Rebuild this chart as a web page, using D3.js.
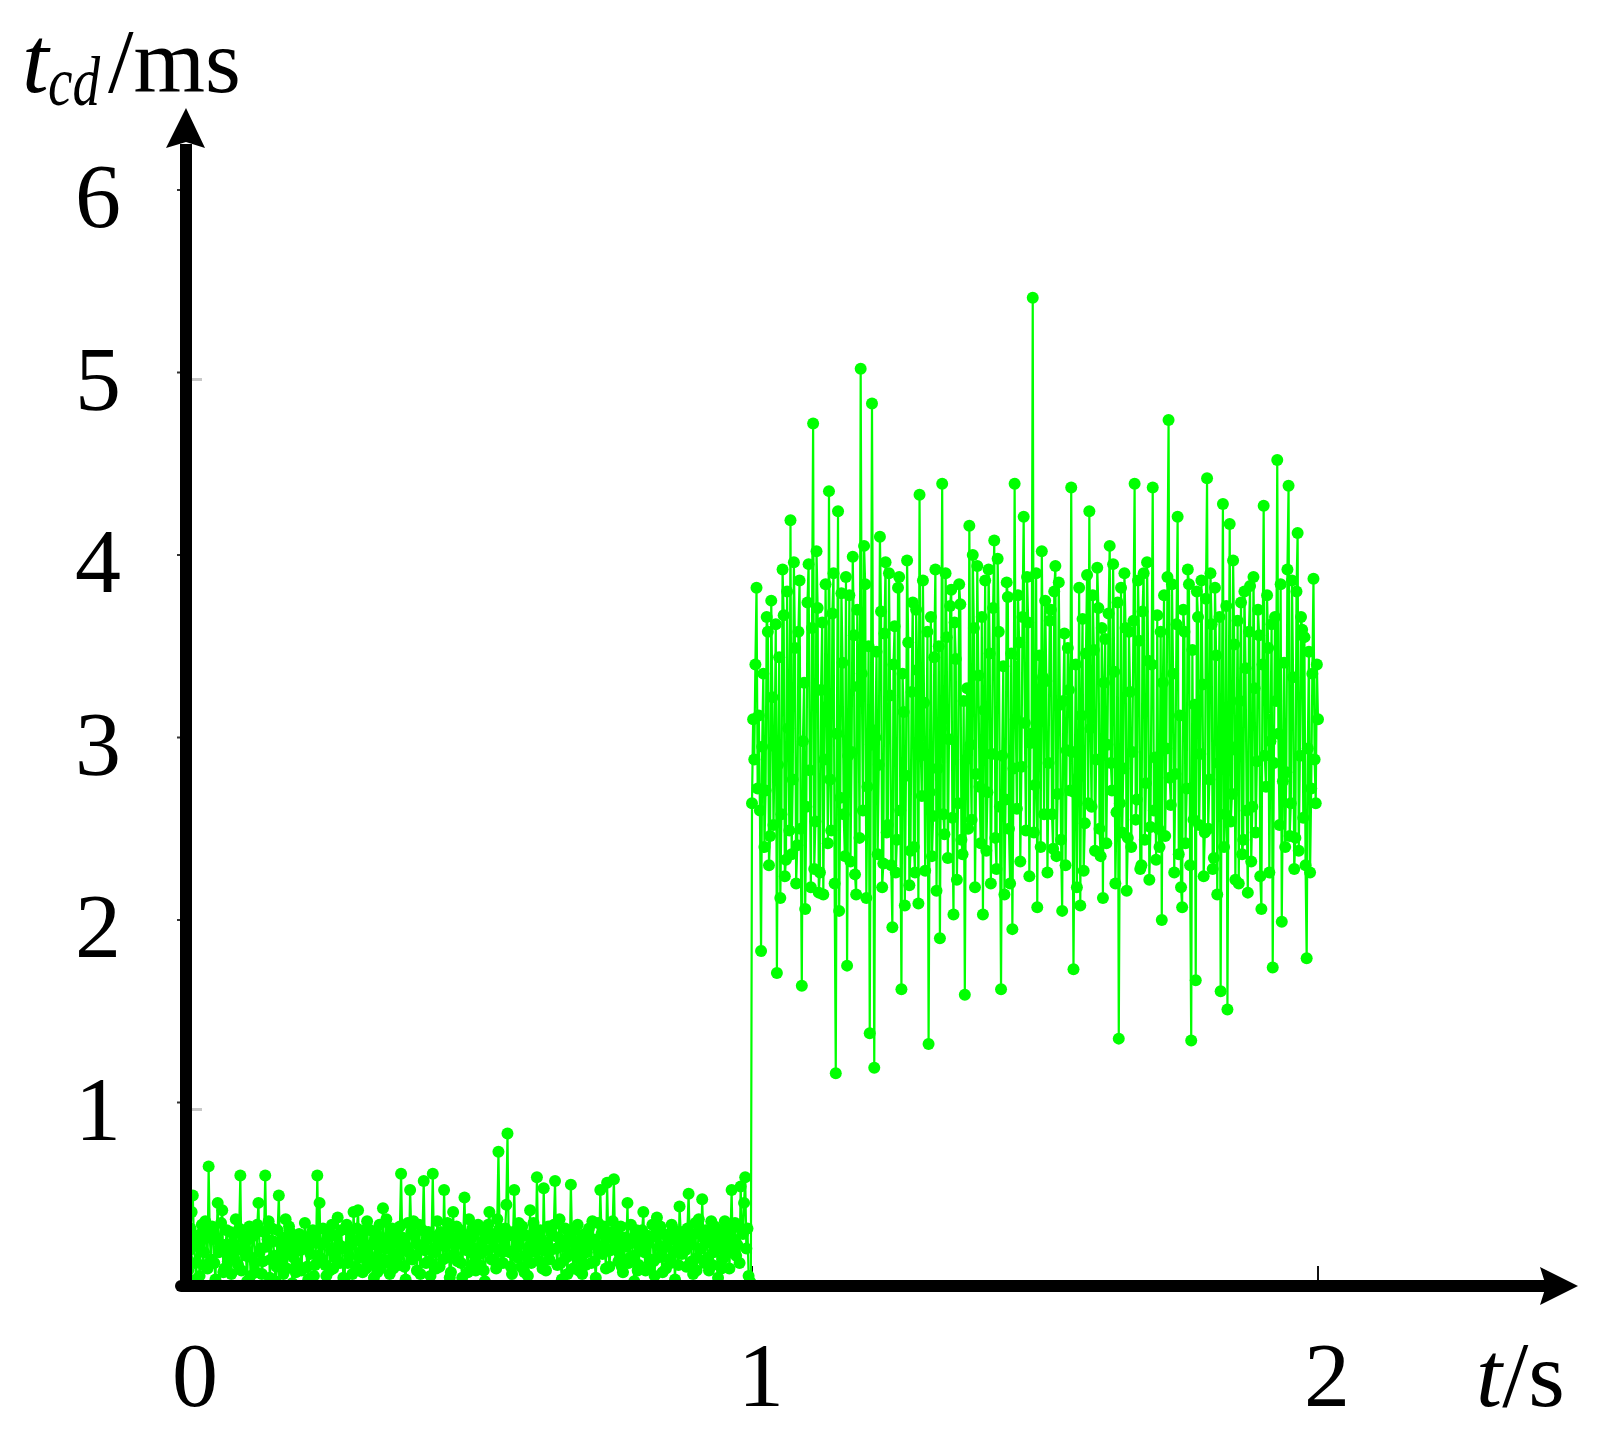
<!DOCTYPE html>
<html>
<head>
<meta charset="utf-8">
<script src="https://cdn.jsdelivr.net/npm/d3@7"></script>
<style>
  body { margin: 0; background: #fff; }
  text { font-family: "Liberation Serif", "Times New Roman", serif; fill: #000; }
</style>
</head>
<body>
<div id="chart"></div>
<script>
// t_cd samples, one every timeStep seconds
var timeStep = 0.002;

// 0 .. 0.998 s : before the fault
var lowValues = [
  0.22,0.15,0.08,0.19,0.31,0.40,0.49,0.24,0.12,0.03,0.27,0.21,0.05,0.28,0.33,0.11,0.18,0.35,0.26,0.09,
  0.65,0.26,0.14,0.32,0.29,0.12,0.03,0.25,0.45,0.18,0.21,0.34,0.41,0.07,0.09,0.22,0.30,0.13,0.17,0.29,
  0.06,0.23,0.28,0.14,0.36,0.20,0.11,0.31,0.60,0.08,0.19,0.27,0.24,0.16,0.02,0.25,0.32,0.05,0.15,0.30,
  0.27,0.12,0.07,0.33,0.45,0.18,0.20,0.06,0.13,0.29,0.60,0.21,0.25,0.35,0.04,0.14,0.31,0.24,0.16,0.02,
  0.10,0.30,0.49,0.17,0.22,0.13,0.06,0.26,0.36,0.09,0.18,0.32,0.29,0.20,0.01,0.15,0.24,0.07,0.12,0.27,
  0.28,0.19,0.08,0.24,0.20,0.34,0.26,0.10,0.03,0.22,0.17,0.28,0.30,0.05,0.11,0.23,0.60,0.16,0.45,0.13,
  0.14,0.31,0.23,0.11,0.05,0.26,0.29,0.08,0.19,0.33,0.09,0.18,0.27,0.14,0.37,0.22,0.12,0.30,0.21,0.04,
  0.02,0.20,0.33,0.12,0.16,0.29,0.25,0.06,0.40,0.24,0.10,0.31,0.41,0.15,0.18,0.27,0.07,0.21,0.30,0.09,
  0.35,0.17,0.13,0.30,0.22,0.11,0.04,0.25,0.28,0.07,0.15,0.33,0.09,0.23,0.42,0.14,0.20,0.36,0.26,0.12,
  0.06,0.24,0.31,0.09,0.17,0.28,0.23,0.15,0.11,0.32,0.61,0.26,0.19,0.10,0.03,0.21,0.34,0.18,0.52,0.29,
  0.14,0.35,0.27,0.16,0.08,0.22,0.33,0.06,0.21,0.30,0.57,0.19,0.12,0.25,0.29,0.13,0.05,0.27,0.61,0.20,
  0.18,0.09,0.35,0.23,0.10,0.29,0.26,0.14,0.52,0.21,0.15,0.34,0.31,0.04,0.07,0.26,0.40,0.17,0.22,0.32,
  0.13,0.25,0.30,0.12,0.04,0.28,0.48,0.22,0.19,0.07,0.36,0.24,0.11,0.31,0.27,0.16,0.08,0.20,0.33,0.11,
  0.17,0.30,0.24,0.08,0.02,0.19,0.29,0.33,0.40,0.25,0.14,0.28,0.21,0.13,0.09,0.36,0.73,0.31,0.26,0.18,
  0.12,0.22,0.31,0.44,0.83,0.27,0.18,0.10,0.06,0.29,0.52,0.20,0.23,0.15,0.34,0.26,0.10,0.32,0.28,0.07,
  0.16,0.27,0.05,0.21,0.41,0.12,0.20,0.34,0.30,0.18,0.59,0.24,0.13,0.30,0.25,0.09,0.53,0.19,0.08,0.23,
  0.32,0.14,0.19,0.28,0.27,0.33,0.57,0.20,0.11,0.26,0.36,0.12,0.03,0.21,0.24,0.31,0.15,0.06,0.29,0.17,
  0.55,0.25,0.09,0.30,0.22,0.15,0.33,0.08,0.14,0.24,0.06,0.19,0.28,0.11,0.18,0.27,0.31,0.22,0.12,0.35,
  0.25,0.13,0.04,0.22,0.34,0.18,0.52,0.28,0.17,0.32,0.21,0.09,0.56,0.26,0.10,0.19,0.29,0.35,0.58,0.24,
  0.20,0.29,0.13,0.17,0.32,0.10,0.07,0.25,0.26,0.21,0.45,0.12,0.15,0.33,0.23,0.16,0.02,0.27,0.30,0.08,
  0.11,0.24,0.19,0.30,0.40,0.18,0.08,0.22,0.27,0.09,0.14,0.26,0.33,0.13,0.05,0.28,0.37,0.15,0.21,0.32,
  0.16,0.07,0.28,0.21,0.09,0.27,0.24,0.14,0.12,0.33,0.31,0.18,0.03,0.25,0.20,0.11,0.43,0.29,0.17,0.23,
  0.26,0.19,0.10,0.31,0.50,0.24,0.22,0.13,0.06,0.28,0.34,0.08,0.15,0.36,0.29,0.20,0.47,0.26,0.12,0.30,
  0.23,0.15,0.08,0.26,0.35,0.11,0.18,0.32,0.27,0.20,0.04,0.24,0.30,0.09,0.14,0.29,0.35,0.17,0.21,0.33,
  0.09,0.27,0.52,0.18,0.25,0.34,0.16,0.22,0.32,0.12,0.54,0.30,0.28,0.45,0.59,0.20,0.31,0.05,0.02,0.01
];

// 1.0 .. 2.0 s : after the fault
var highValues = [
  2.64,3.10,2.88,3.40,3.82,2.72,3.12,2.60,1.83,2.95,3.35,2.40,2.71,3.66,3.58,2.30,2.46,3.75,3.22,2.52,
  2.95,3.62,1.71,2.85,3.44,2.12,2.58,3.92,3.67,2.24,2.33,3.80,3.05,2.49,4.19,2.36,2.77,3.96,3.49,2.20,
  2.41,3.58,3.86,2.50,1.64,2.98,3.30,2.06,2.62,3.74,3.95,2.82,2.18,3.60,4.72,2.28,2.54,4.02,3.71,2.15,
  2.26,3.26,3.63,2.14,2.88,3.84,3.17,2.42,4.35,2.77,2.49,3.68,3.90,2.20,1.16,3.02,4.24,2.05,2.67,3.79,
  3.41,2.58,2.35,3.88,1.75,2.90,3.78,2.32,2.92,3.99,3.56,2.25,2.14,3.70,3.28,2.45,5.02,3.35,2.60,4.05,
  3.84,2.12,2.73,3.50,1.38,2.96,4.83,3.04,1.19,3.00,3.47,2.36,2.85,4.10,3.69,2.18,2.31,3.57,3.96,2.48,
  2.52,3.90,3.23,2.30,1.96,3.40,3.61,2.26,2.44,3.82,3.88,2.60,1.62,3.35,3.14,2.08,2.79,3.97,3.52,2.19,
  2.38,3.25,3.74,2.40,2.26,3.70,3.37,2.09,4.33,2.95,2.68,3.86,3.19,2.27,2.90,3.58,1.32,2.70,3.66,2.35,
  2.57,3.44,3.92,2.16,2.83,3.50,1.90,3.05,4.39,2.58,2.47,3.90,3.55,2.34,2.99,3.72,3.81,2.56,2.03,3.63,
  3.43,2.22,2.64,3.84,3.73,2.44,2.36,3.20,1.59,2.88,3.27,2.50,4.16,2.96,2.55,4.00,3.60,2.18,2.80,3.94,
  3.34,2.73,2.42,3.66,2.03,3.15,3.86,2.38,2.70,3.92,3.46,2.20,2.91,3.71,4.08,2.45,2.28,3.98,3.58,2.62,
  1.62,2.90,3.39,2.14,2.66,3.85,3.77,2.50,2.20,3.46,1.95,2.83,4.39,3.10,2.61,3.78,3.52,2.32,2.84,3.66,
  4.21,3.08,2.49,3.88,3.63,2.24,2.97,3.02,5.41,2.48,2.74,3.90,2.07,3.22,3.45,2.40,4.02,3.33,2.58,3.75,
  3.31,2.26,2.86,3.64,3.70,2.58,2.39,3.80,3.94,2.35,2.69,3.85,3.18,2.44,2.05,3.20,3.57,2.30,2.93,3.49,
  3.26,2.71,4.37,2.92,1.73,2.70,3.40,2.18,2.78,3.82,2.08,3.12,3.65,2.27,2.53,3.46,3.89,2.64,4.24,3.05,
  2.62,3.78,3.48,2.38,2.88,3.93,3.71,2.50,2.35,3.60,2.12,3.30,3.54,2.42,2.96,3.68,4.05,2.86,2.71,3.95,
  3.36,2.20,2.59,3.74,1.35,2.64,3.82,2.48,2.83,3.90,3.60,2.16,2.45,3.58,3.25,2.40,2.92,3.64,4.39,2.55,
  2.66,3.86,3.53,2.28,2.30,3.69,3.90,2.44,2.75,3.96,3.42,2.22,2.51,3.40,4.37,2.60,2.89,2.33,3.67,2.50,
  2.40,3.58,2.00,3.30,3.78,2.46,2.94,3.88,4.74,2.78,2.63,3.84,3.35,2.26,2.80,3.62,4.21,2.36,3.12,2.18,
  2.07,3.70,3.58,2.42,2.72,3.92,3.84,2.30,1.34,3.48,2.55,3.18,1.67,3.80,3.66,2.52,2.91,3.86,3.29,2.24,
  2.48,3.76,4.42,2.50,2.77,3.90,3.62,2.28,2.34,3.82,3.45,2.14,2.86,3.66,1.61,3.04,4.28,2.40,2.58,3.72,
  1.51,2.96,4.17,2.54,2.69,3.97,3.51,2.22,2.93,3.64,2.20,3.20,3.74,2.36,2.44,3.80,3.38,2.60,2.15,3.58,
  3.83,2.32,2.62,3.88,3.27,2.48,2.87,3.70,3.56,2.24,2.06,3.40,4.27,2.90,2.73,3.78,3.49,2.26,2.98,3.62,
  1.74,2.86,3.66,3.20,4.52,3.02,2.52,3.84,1.99,2.76,3.41,2.40,2.81,3.92,4.38,2.46,2.64,3.86,3.33,2.28,
  2.45,3.80,4.12,2.38,2.90,3.66,3.59,2.56,3.55,2.30,1.79,2.94,3.47,2.26,2.72,3.35,3.87,2.88,2.64,3.40,
  3.10
];

var xTicks = [0, 1, 2];
var yTicks = [1, 2, 3, 4, 5, 6];
var faintMarks = [1, 5];

var width = 1599, height = 1446;

var x = d3.scaleLinear().domain([0, 2]).range([186, 1318]);
var y = d3.scaleLinear().domain([0, 6]).range([1285, 190]);

var samples = lowValues.concat(highValues).map(function(v, i) {
    return { t: i * timeStep, v: v };
});

var svg = d3.select("#chart").append("svg")
    .attr("width", width)
    .attr("height", height);

svg.append("rect")
    .attr("width", width)
    .attr("height", height)
    .attr("fill", "#fff");

// little grey marks left over by the export
svg.selectAll(".faint")
    .data(faintMarks)
  .enter().append("line")
    .attr("class", "faint")
    .attr("x1", 186).attr("x2", 202)
    .attr("y1", function(d) { return y(d) + 7; })
    .attr("y2", function(d) { return y(d) + 7; })
    .attr("stroke", "#c8c8c8")
    .attr("stroke-width", 3);

// ticks
svg.selectAll(".ytick")
    .data(yTicks)
  .enter().append("line")
    .attr("class", "ytick")
    .attr("x1", 177).attr("x2", 190)
    .attr("y1", function(d) { return y(d); })
    .attr("y2", function(d) { return y(d); })
    .attr("stroke", "#333")
    .attr("stroke-width", 2);

svg.selectAll(".xtick")
    .data(xTicks)
  .enter().append("line")
    .attr("class", "xtick")
    .attr("x1", function(d) { return x(d); })
    .attr("x2", function(d) { return x(d); })
    .attr("y1", 1266).attr("y2", 1286)
    .attr("stroke", "#111")
    .attr("stroke-width", 2);

// data
var line = d3.line()
    .x(function(d) { return x(d.t); })
    .y(function(d) { return y(d.v); });

svg.append("path")
    .datum(samples)
    .attr("d", line)
    .attr("fill", "none")
    .attr("stroke", "#00ff00")
    .attr("stroke-width", 2.2);

svg.selectAll(".dot")
    .data(samples)
  .enter().append("circle")
    .attr("class", "dot")
    .attr("cx", function(d) { return x(d.t); })
    .attr("cy", function(d) { return y(d.v); })
    .attr("r", 6)
    .attr("fill", "#00ff00");

// axes with arrows
svg.append("line")
    .attr("x1", 181).attr("x2", 1546)
    .attr("y1", 1286).attr("y2", 1286)
    .attr("stroke", "#000")
    .attr("stroke-width", 12)
    .attr("stroke-linecap", "round");

svg.append("line")
    .attr("x1", 186).attr("x2", 186)
    .attr("y1", 1286).attr("y2", 144)
    .attr("stroke", "#000")
    .attr("stroke-width", 12);

svg.append("path")
    .attr("d", "M1578,1286 L1540,1267 L1546,1286 L1540,1305 Z")
    .attr("fill", "#000");

svg.append("path")
    .attr("d", "M186,108 L166,148 L186,142 L205,148 Z")
    .attr("fill", "#000");

// tick labels
svg.selectAll(".ylabel")
    .data(yTicks)
  .enter().append("text")
    .attr("class", "ylabel")
    .attr("x", 98)
    .attr("y", function(d) { return y(d) + 37; })
    .attr("text-anchor", "middle")
    .style("font-size", "92px")
    .text(function(d) { return d; });

svg.selectAll(".xlabel")
    .data(xTicks)
  .enter().append("text")
    .attr("class", "xlabel")
    .attr("x", function(d) { return x(d) + 9; })
    .attr("y", 1406)
    .attr("text-anchor", "middle")
    .style("font-size", "92px")
    .text(function(d) { return d; });

// axis titles
svg.append("text")
    .attr("x", 22).attr("y", 92)
    .style("font-size", "96px")
    .style("font-style", "italic")
    .text("t");

svg.append("text")
    .attr("x", 48).attr("y", 105)
    .style("font-size", "70px")
    .style("font-style", "italic")
    .attr("textLength", 52)
    .attr("lengthAdjust", "spacingAndGlyphs")
    .text("cd");

svg.append("text")
    .attr("x", 108).attr("y", 92)
    .style("font-size", "92px")
    .text("/ms");

var xt = svg.append("text")
    .attr("x", 1476).attr("y", 1406)
    .style("font-size", "94px");
xt.append("tspan").style("font-style", "italic").text("t");
xt.append("tspan").text("/s");
</script>
</body>
</html>
